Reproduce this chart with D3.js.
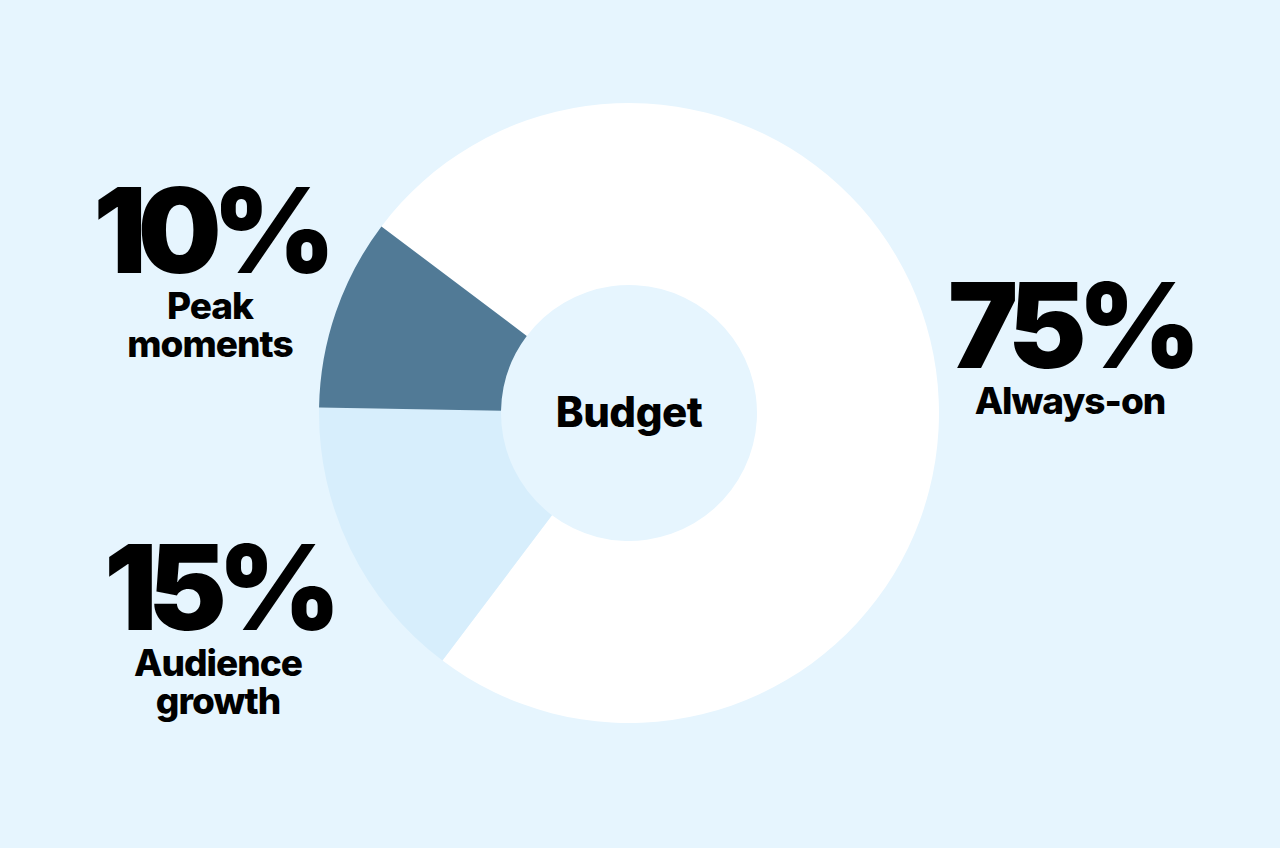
<!DOCTYPE html>
<html><head><meta charset="utf-8">
<script src="https://cdn.jsdelivr.net/npm/d3@7"></script>
<style>body{margin:0;background:#e6f5fe;}svg{display:block}text{font-family:Inter,sans-serif;fill:#000;}</style>
</head><body>
<svg width="1280" height="848"></svg>
<script>
const categories = ["Always-on","Audience growth","Peak moments"];
const values = [75,15,10];
const colors = ["#ffffff","#d7eefc","#517a96"];
const pctLabels = ["75%","15%","10%"];
const nameLines = [["Always-on"],["Audience","growth"],["Peak","moments"]];
const labelPos = [[1070,368],[218,630],[210,273]];

const svg = d3.select("svg");
const g = svg.append("g").attr("transform","translate(629,413)");
const pie = d3.pie().sort(null).startAngle(-53*Math.PI/180).endAngle(307*Math.PI/180);
const arc = d3.arc().innerRadius(128).outerRadius(310);
g.selectAll("path").data(pie(values)).join("path").attr("d",arc).attr("fill",(d,i)=>colors[i]);
g.append("text").attr("text-anchor","middle").attr("y",14).attr("font-size",42).attr("font-weight",800).attr("letter-spacing",-0.5).text("Budget");

categories.forEach((c,i)=>{
  const [x,y]=labelPos[i];
  svg.append("text").attr("x",x).attr("y",y).attr("text-anchor","middle").attr("font-size",118).attr("font-weight",900).attr("letter-spacing",-9).text(pctLabels[i]);
  nameLines[i].forEach((l,j)=>{
    svg.append("text").attr("x",x).attr("y",y+46+j*38).attr("text-anchor","middle").attr("font-size",37).attr("font-weight",800).attr("letter-spacing",-1).text(l);
  });
});
</script>
</body></html>
